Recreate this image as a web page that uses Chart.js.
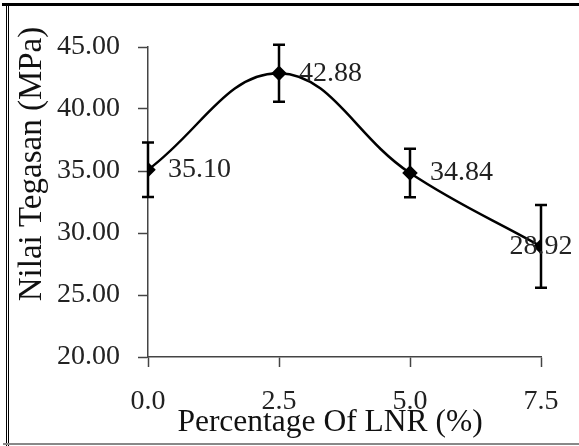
<!DOCTYPE html>
<html>
<head>
<meta charset="utf-8">
<script src="https://cdn.jsdelivr.net/npm/chart.js@4"></script>
<style>
  html, body { margin: 0; padding: 0; background: #fff; }
  #wrap { position: relative; width: 579px; height: 446px; overflow: hidden; }
  #frameTop { position: absolute; left: 2px; top: 3px; width: 577px; height: 3px; background: #000; }
  #frameLeft { position: absolute; left: 3px; top: 3px; width: 3px; height: 446px; border-right: 3px double #000; box-sizing: content-box; }
  #frameBottom { position: absolute; left: 3px; top: 443px; width: 576px; height: 2px; background: #888; }
  canvas { position: absolute; left: 0; top: 0; }
</style>
</head>
<body>
<div id="wrap">
  <canvas id="chart" width="579" height="446"></canvas>
  <div id="frameTop"></div>
  <div id="frameLeft"></div>
  <div id="frameBottom"></div>
</div>
<script>
const percentages = [0, 2.5, 5.0, 7.5];
const stress = [35.10, 42.88, 34.84, 28.92];
const stressErr = [2.2, 2.3, 1.95, 3.33];
const xTitle = 'Percentage Of LNR (%)';
const yTitle = 'Nilai Tegasan (MPa)';

const serif = 'Liberation Serif, Times New Roman, serif';

// error bars + value labels
const extras = {
  id: 'extras',
  afterDatasetsDraw(chart) {
    const c = chart.ctx, xs = chart.scales.x, ys = chart.scales.y;
    c.save();
    c.strokeStyle = '#000';
    c.lineWidth = 2.5;
    percentages.forEach((p, i) => {
      const px = xs.getPixelForValue(p);
      const top = ys.getPixelForValue(stress[i] + stressErr[i]);
      const bot = ys.getPixelForValue(stress[i] - stressErr[i]);
      c.beginPath();
      c.moveTo(px, top); c.lineTo(px, bot);
      c.moveTo(px - 6, top); c.lineTo(px + 6, top);
      c.moveTo(px - 6, bot); c.lineTo(px + 6, bot);
      c.stroke();
    });
    c.fillStyle = '#222';
    c.font = '28px ' + serif;
    c.textBaseline = 'middle';
    percentages.forEach((p, i) => {
      const px = xs.getPixelForValue(p);
      const py = ys.getPixelForValue(stress[i]);
      const txt = stress[i].toFixed(2);
      const w = c.measureText(txt).width;
      let x = px + 20;
      if (x + w > chart.width) x = px - w / 2;
      c.textAlign = 'left';
      c.fillText(txt, x, py);
    });
    c.restore();
  },
  afterDraw(chart) {
    const c = chart.ctx;
    c.save();
    c.fillStyle = '#111';
    c.textAlign = 'center';
    c.textBaseline = 'middle';
    c.font = '31.5px ' + serif;
    c.fillText(xTitle, 330, 423);
    c.font = '33px ' + serif;
    c.translate(32, 164);
    c.rotate(-Math.PI / 2);
    c.fillText(yTitle, 0, 0);
    c.restore();
  }
};

new Chart(document.getElementById('chart'), {
  type: 'line',
  data: {
    datasets: [{
      data: percentages.map((p, i) => ({x: p, y: stress[i]})),
      borderColor: '#000',
      borderWidth: 2.5,
      backgroundColor: '#000',
      pointStyle: 'rectRot',
      pointRadius: 6,
      tension: 0.4,
      fill: false
    }]
  },
  options: {
    responsive: false,
    animation: false,
    layout: { padding: { left: 8, right: 38, top: 47, bottom: 0 } },
    plugins: { legend: { display: false }, tooltip: { enabled: false } },
    scales: {
      x: {
        type: 'linear',
        min: 0, max: 7.5,
        ticks: { stepSize: 2.5, color: '#222', padding: 18, font: { family: serif, size: 28 },
                 callback: v => v.toFixed(1) },
        grid: { drawOnChartArea: false, color: '#444', tickLength: 10, tickWidth: 1.5 },
        border: { color: '#444', width: 1.5 },
        afterFit: s => { s.height = 89; }
      },
      y: {
        min: 20, max: 45,
        ticks: { stepSize: 5, color: '#222', padding: 18, font: { family: serif, size: 28 },
                 callback: v => v.toFixed(2) },
        grid: { drawOnChartArea: false, color: '#444', tickLength: 10, tickWidth: 1.5 },
        border: { color: '#444', width: 1.5 },
        afterFit: s => { s.width = 140; }
      }
    }
  },
  plugins: [extras]
});
</script>
</body>
</html>
